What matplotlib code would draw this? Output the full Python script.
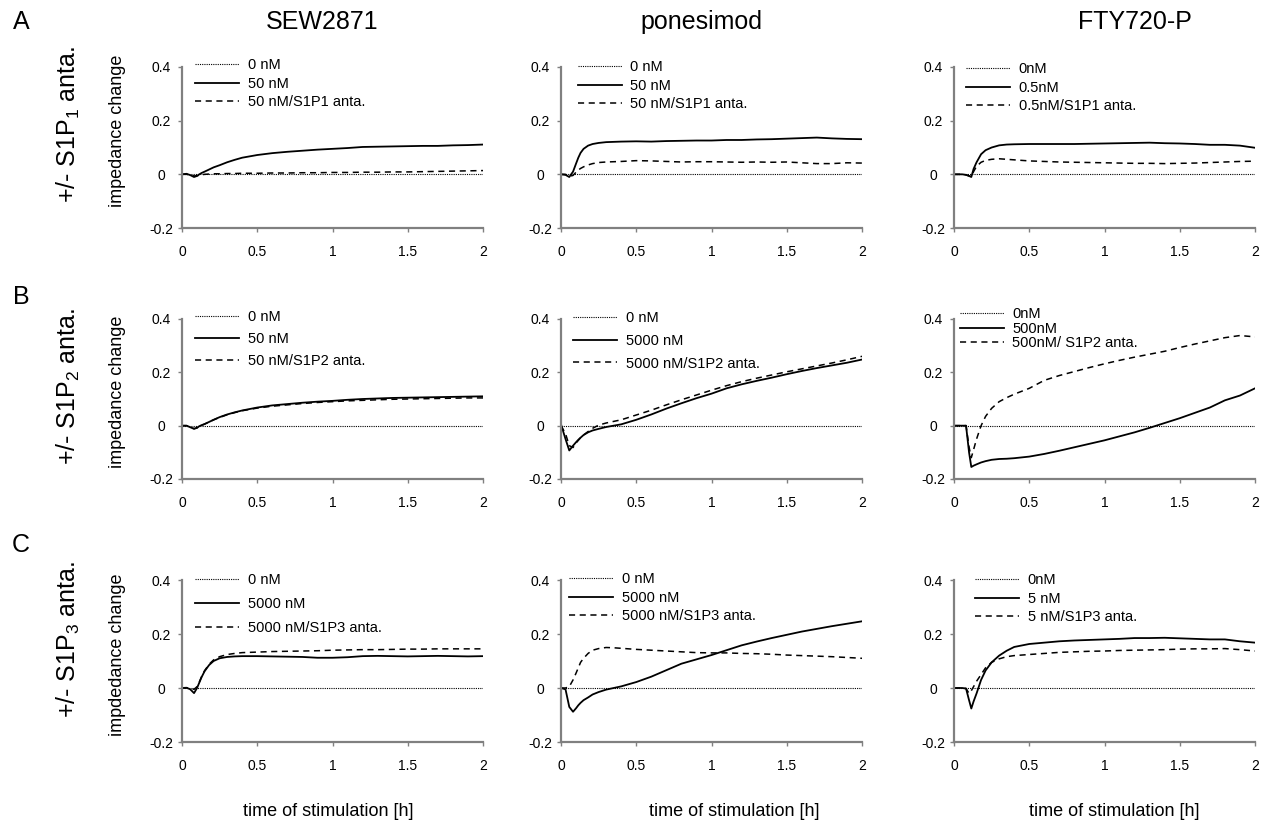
import numpy as np
import matplotlib
matplotlib.use("Agg")
import matplotlib.pyplot as plt

plt.rcParams['font.family'] = ['Liberation Sans', 'DejaVu Sans']
plt.rcParams['mathtext.default'] = 'regular'

# time of stimulation [h], shared grid for all panels
t = [0, 0.03, 0.055, 0.08, 0.1, 0.115, 0.13, 0.15, 0.18, 0.21, 0.25, 0.3, 0.35, 0.4, 0.5,
     0.6, 0.7, 0.8, 0.9, 1.0, 1.1, 1.2, 1.3, 1.4, 1.5, 1.6, 1.7, 1.8, 1.9, 2.0]
ctrl = [0.0] * len(t)

# row A: +/- S1P1 antagonist
sew_a = [0, 0.002, -0.003, -0.01, -0.006, 0.0, 0.005, 0.01, 0.018, 0.026, 0.034, 0.045, 0.054, 0.062, 0.072,
         0.079, 0.084, 0.088, 0.092, 0.095, 0.098, 0.102, 0.103, 0.104, 0.105, 0.106, 0.106, 0.108, 0.109, 0.111]
sew_a_anta = [0, 0, -0.002, -0.006, -0.005, -0.003, -0.002, 0, 0.001, 0.002, 0.002, 0.003, 0.003, 0.004, 0.004,
              0.005, 0.005, 0.006, 0.006, 0.007, 0.007, 0.008, 0.008, 0.009, 0.009, 0.01, 0.011, 0.012, 0.013, 0.014]
pon_a = [0, -0.002, -0.01, 0.01, 0.04, 0.062, 0.08, 0.095, 0.107, 0.113, 0.117, 0.12, 0.121, 0.122, 0.123,
         0.122, 0.124, 0.125, 0.126, 0.126, 0.128, 0.128, 0.13, 0.131, 0.133, 0.135, 0.137, 0.134, 0.132, 0.131]
pon_a_anta = [0, 0, -0.008, -0.004, 0.008, 0.016, 0.022, 0.028, 0.035, 0.04, 0.044, 0.046, 0.047, 0.048, 0.051,
              0.05, 0.048, 0.046, 0.047, 0.047, 0.046, 0.045, 0.046, 0.045, 0.046, 0.043, 0.04, 0.04, 0.043, 0.042]
fty_a = [0, 0, 0, -0.002, -0.006, -0.01, 0.02, 0.045, 0.075, 0.09, 0.1, 0.108, 0.111, 0.112, 0.113,
         0.113, 0.113, 0.113, 0.114, 0.115, 0.116, 0.117, 0.118, 0.116, 0.115, 0.113, 0.11, 0.11, 0.107, 0.099]
fty_a_anta = [0, 0, 0, -0.002, -0.006, -0.008, 0.01, 0.03, 0.045, 0.052, 0.056, 0.058, 0.056, 0.054, 0.05,
              0.048, 0.046, 0.045, 0.044, 0.043, 0.042, 0.041, 0.041, 0.04, 0.041, 0.042, 0.044, 0.046, 0.048, 0.049]

# row B: +/- S1P2 antagonist
sew_b = [0, 0.0, -0.006, -0.012, -0.008, -0.002, 0.002, 0.006, 0.014, 0.022, 0.032, 0.042, 0.05, 0.057, 0.068,
         0.076, 0.081, 0.086, 0.09, 0.093, 0.097, 0.1, 0.102, 0.104, 0.105, 0.106, 0.107, 0.108, 0.109, 0.11]
sew_b_anta = [0, 0, -0.006, -0.011, -0.008, -0.003, 0.001, 0.006, 0.014, 0.022, 0.031, 0.041, 0.049, 0.056, 0.066,
              0.073, 0.078, 0.083, 0.087, 0.09, 0.093, 0.095, 0.097, 0.099, 0.1, 0.101, 0.102, 0.103, 0.104, 0.104]
pon_b = [0.005, -0.05, -0.093, -0.075, -0.062, -0.053, -0.045, -0.035, -0.025, -0.018, -0.012, -0.005, 0.0, 0.005, 0.022,
         0.042, 0.064, 0.084, 0.103, 0.12, 0.14, 0.155, 0.168, 0.18, 0.193, 0.205, 0.216, 0.226, 0.236, 0.248]
pon_b_anta = [0, -0.03, -0.075, -0.082, -0.065, -0.055, -0.045, -0.035, -0.022, -0.01, 0.002, 0.01, 0.016, 0.022, 0.04,
              0.058, 0.078, 0.097, 0.115, 0.133, 0.15, 0.165, 0.178, 0.19, 0.202, 0.213, 0.224, 0.235, 0.247, 0.26]
fty_b = [0, 0, 0, 0, -0.1, -0.155, -0.15, -0.145, -0.138, -0.133, -0.128, -0.125, -0.124, -0.122, -0.116,
         -0.106, -0.094, -0.081, -0.068, -0.055, -0.04, -0.025, -0.008, 0.01, 0.028, 0.048, 0.068, 0.095, 0.113, 0.14]
fty_b_anta = [0, 0, 0, 0, -0.08, -0.12, -0.09, -0.05, 0.0, 0.035, 0.065, 0.09, 0.105, 0.118, 0.14,
              0.17, 0.188, 0.203, 0.218, 0.232, 0.245, 0.257, 0.268, 0.279, 0.293, 0.306, 0.318, 0.33, 0.338, 0.333]

# row C: +/- S1P3 antagonist
sew_c = [0, 0.001, -0.005, -0.019, 0.0, 0.02, 0.04, 0.062, 0.085, 0.1, 0.11, 0.115, 0.117, 0.118, 0.118,
         0.117, 0.116, 0.115, 0.112, 0.112, 0.114, 0.118, 0.119, 0.118, 0.117, 0.118, 0.119, 0.118, 0.117, 0.118]
sew_c_anta = [0, 0, 0, -0.005, 0.005, 0.022, 0.042, 0.064, 0.088, 0.104, 0.116, 0.124, 0.128, 0.131, 0.133,
              0.135, 0.136, 0.137, 0.138, 0.14, 0.141, 0.142, 0.142, 0.143, 0.144, 0.144, 0.145, 0.145, 0.145, 0.145]
pon_c = [0, -0.005, -0.07, -0.088, -0.075, -0.064, -0.055, -0.045, -0.035, -0.024, -0.015, -0.006, 0.0, 0.006, 0.022,
         0.042, 0.066, 0.09, 0.106, 0.122, 0.14, 0.158, 0.172, 0.185, 0.197, 0.209, 0.219, 0.229, 0.238, 0.247]
pon_c_anta = [0, 0, 0.005, 0.03, 0.055, 0.075, 0.095, 0.11, 0.128, 0.14, 0.146, 0.15, 0.149, 0.147, 0.143,
              0.14, 0.137, 0.134, 0.131, 0.13, 0.13, 0.128, 0.127, 0.125, 0.122, 0.12, 0.118, 0.116, 0.113, 0.11]
fty_c = [0, 0, 0, -0.002, -0.045, -0.076, -0.05, -0.02, 0.03, 0.065, 0.095, 0.12, 0.138, 0.152, 0.163,
         0.168, 0.173, 0.176, 0.178, 0.18, 0.182, 0.185, 0.185, 0.186, 0.184, 0.182, 0.18, 0.18, 0.173, 0.168]
fty_c_anta = [0, 0, 0, -0.002, -0.02, -0.01, 0.005, 0.025, 0.05, 0.075, 0.095, 0.108, 0.116, 0.12, 0.124,
              0.128, 0.132, 0.134, 0.136, 0.137, 0.139, 0.14, 0.141, 0.142, 0.144, 0.145, 0.145, 0.146, 0.142, 0.137]

col_titles = ['SEW2871', 'ponesimod', 'FTY720-P']
row_letters = ['A', 'B', 'C']
row_labels = ['+/- S1P$_1$ anta.', '+/- S1P$_2$ anta.', '+/- S1P$_3$ anta.']
ylabels = ['impedance change', 'impedance change', 'impdedance change']

panels = [
    [(sew_a, sew_a_anta, ['0 nM', '50 nM', '50 nM/S1P1 anta.']),
     (pon_a, pon_a_anta, ['0 nM', '50 nM', '50 nM/S1P1 anta.']),
     (fty_a, fty_a_anta, ['0nM', '0.5nM', '0.5nM/S1P1 anta.'])],
    [(sew_b, sew_b_anta, ['0 nM', '50 nM', '50 nM/S1P2 anta.']),
     (pon_b, pon_b_anta, ['0 nM', '5000 nM', '5000 nM/S1P2 anta.']),
     (fty_b, fty_b_anta, ['0nM', '500nM', '500nM/ S1P2 anta.'])],
    [(sew_c, sew_c_anta, ['0 nM', '5000 nM', '5000 nM/S1P3 anta.']),
     (pon_c, pon_c_anta, ['0 nM', '5000 nM', '5000 nM/S1P3 anta.']),
     (fty_c, fty_c_anta, ['0nM', '5 nM', '5 nM/S1P3 anta.'])],
]

W, H = 1267, 824
fig = plt.figure(figsize=(W / 100, H / 100), dpi=100)

# axes boxes in pixels (left, right) and (top, bottom)
cols_px = [(182, 483), (561, 862), (954, 1255)]
rows_px = [(67, 228), (319, 479), (580, 742)]
# legend: handle start x, first entry centre y, spacing
leg_px = [[(195, 63, 0.32), (578, 65, 0.32), (966, 67, 0.32)],
          [(195, 315, 0.55), (573, 316, 0.6), (960, 312, 0.05)],
          [(195, 578, 0.7), (569, 577, 0.32), (975, 578, 0.32)]]

gray = '#808080'
for r in range(3):
    top, bot = rows_px[r]
    for c in range(3):
        l, rr = cols_px[c]
        ax = fig.add_axes([l / W, 1 - bot / H, (rr - l) / W, (bot - top) / H])
        sol, dash, labs = panels[r][c]
        ax.plot(t, ctrl, color='black', lw=0.8, ls=(0, (1, 1)), label=labs[0])
        ax.plot(t, sol, color='black', lw=1.3, label=labs[1])
        ax.plot(t, dash, color='black', lw=1.1, ls=(0, (4, 3)), label=labs[2])
        ax.set_xlim(0, 2)
        ax.set_ylim(-0.2, 0.4)
        ax.set_xticks([0, 0.5, 1, 1.5, 2])
        ax.set_xticklabels(['0', '0.5', '1', '1.5', '2'])
        ax.set_yticks([-0.2, 0, 0.2, 0.4])
        ax.set_yticklabels(['-0.2', '0', '0.2', '0.4'])
        for s in ['top', 'right']:
            ax.spines[s].set_visible(False)
        for s in ['left', 'bottom']:
            ax.spines[s].set_color(gray)
            ax.spines[s].set_linewidth(1.6)
        ax.tick_params(axis='x', direction='out', length=3, width=1, color=gray, labelsize=10, pad=9)
        ax.tick_params(axis='y', direction='out', length=3, width=1, color=gray, labelsize=10, pad=12)
        for lab in ax.get_yticklabels():
            lab.set_horizontalalignment('center')
        hx, hy, sp = leg_px[r][c]
        ax.legend(loc='upper left', bbox_to_anchor=(hx / W, 1 - (hy - 5) / H),
                  bbox_transform=fig.transFigure, frameon=False, fontsize=10.5,
                  borderpad=0, borderaxespad=0, handlelength=3.0, handletextpad=0.6,
                  labelspacing=sp)

# column titles
for x, txt in zip([322, 701, 1135], col_titles):
    fig.text(x / W, 1 - 22 / H, txt, fontsize=18, ha='center', va='center')

# row letters, row labels and y labels
for r, (ly, ry, yl) in enumerate([(22, 125, 131), (297, 387, 392), (545, 640, 655)]):
    fig.text(21 / W, 1 - ly / H, row_letters[r], fontsize=18, ha='center', va='center')
    fig.text(68 / W, 1 - ry / H, row_labels[r], fontsize=18, rotation=90, ha='center', va='center')
    fig.text(118 / W, 1 - yl / H, ylabels[r], fontsize=13, rotation=90, ha='center', va='center')

for x in [328, 734, 1114]:
    fig.text(x / W, 1 - 812 / H, 'time of stimulation [h]', fontsize=13, ha='center', va='center')

fig.savefig('out.png', dpi=100)
